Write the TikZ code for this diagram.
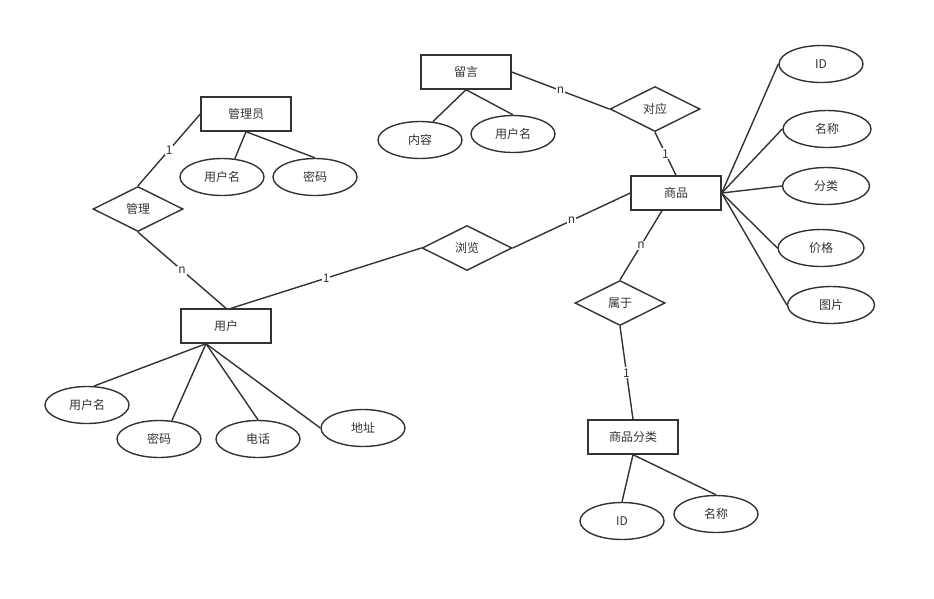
\documentclass[tikz,border=0pt]{standalone}
\usepackage{fontspec}
\setmainfont{Noto Sans CJK SC}
\usetikzlibrary{shapes.geometric,calc}
\definecolor{ln}{HTML}{333333}
\begin{document}
\begin{tikzpicture}[x=1pt,y=-1pt,
  every node/.style={font=\fontsize{12}{14}\selectfont, text=ln},
  ent/.style={draw=ln, line width=1.4pt, rectangle, minimum width=90, minimum height=34, inner sep=0},
  rel/.style={draw=ln, line width=1.4pt, diamond, minimum width=90, minimum height=45, inner sep=0},
  attr/.style={draw=ln, line width=1.4pt, ellipse, minimum width=84, minimum height=37, inner sep=0},
  con/.style={draw=ln, line width=1.4pt},
  lab/.style={fill=white, inner sep=1pt, font=\fontsize{12}{14}\selectfont}]
\useasboundingbox (0,0) rectangle (934,598);
% entities
\node[ent] (A) at (246,114) {管理员};
\node[ent] (M) at (466,72) {留言};
\node[ent] (P) at (676,193) {商品};
\node[ent] (U) at (226,326) {用户};
\node[ent] (C) at (633,437) {商品分类};
% relations
\node[rel] (D1) at (138,209) {管理};
\node[rel] (D2) at (655,109) {对应};
\node[rel] (D3) at (467,248) {浏览};
\node[rel] (D4) at (620,303) {属于};
% attributes
\node[attr] (a1) at (222,177) {用户名};
\node[attr] (a2) at (315,177) {密码};
\node[attr] (m1) at (420,140) {内容};
\node[attr] (m2) at (513,134) {用户名};
\node[attr] (p1) at (821,64) {ID};
\node[attr, minimum width=88] (p2) at (827,129) {名称};
\node[attr, minimum width=87] (p3) at (826,186) {分类};
\node[attr, minimum width=86] (p4) at (821,248) {价格};
\node[attr, minimum width=87] (p5) at (831,305) {图片};
\node[attr] (u1) at (87,405) {用户名};
\node[attr] (u2) at (159,439) {密码};
\node[attr] (u3) at (258,439) {电话};
\node[attr] (u4) at (363,428) {地址};
\node[attr] (c1) at (622,521) {ID};
\node[attr] (c2) at (716,514) {名称};
% connectors
\draw[con] (A.south) -- (a1.55);
\draw[con] (A.south) -- (a2.north);
\draw[con] (A.west) -- node[lab]{1} (D1.north);
\draw[con] (D1.south) -- node[lab]{n} (U.north);
\draw[con] ($(U.north)+(5,0)$) -- node[lab]{1} (D3.west);
\draw[con] (D3.east) -- node[lab]{n} (P.west);
\draw[con] (M.east) -- node[lab]{n} (D2.west);
\draw[con] (D2.south) -- node[lab]{1} (P.north);
\draw[con] ($(P.south)+(-14,0)$) -- node[lab]{n} (D4.north);
\draw[con] (D4.south) -- node[lab]{1} (C.north);
\draw[con] (M.south) -- (m1.55);
\draw[con] (M.south) -- (m2.north);
\foreach \t in {p1,p2,p3,p4,p5} \draw[con] (P.east) -- (\t.west);
\draw[con] ($(U.south)+(-20,0)$) -- (u1.70);
\draw[con] ($(U.south)+(-20,0)$) -- (u2.55);
\draw[con] ($(U.south)+(-20,0)$) -- (u3.north);
\draw[con] ($(U.south)+(-20,0)$) -- (u4.west);
\draw[con] (C.south) -- (c1.north);
\draw[con] (C.south) -- (c2.north);
\end{tikzpicture}
\end{document}
